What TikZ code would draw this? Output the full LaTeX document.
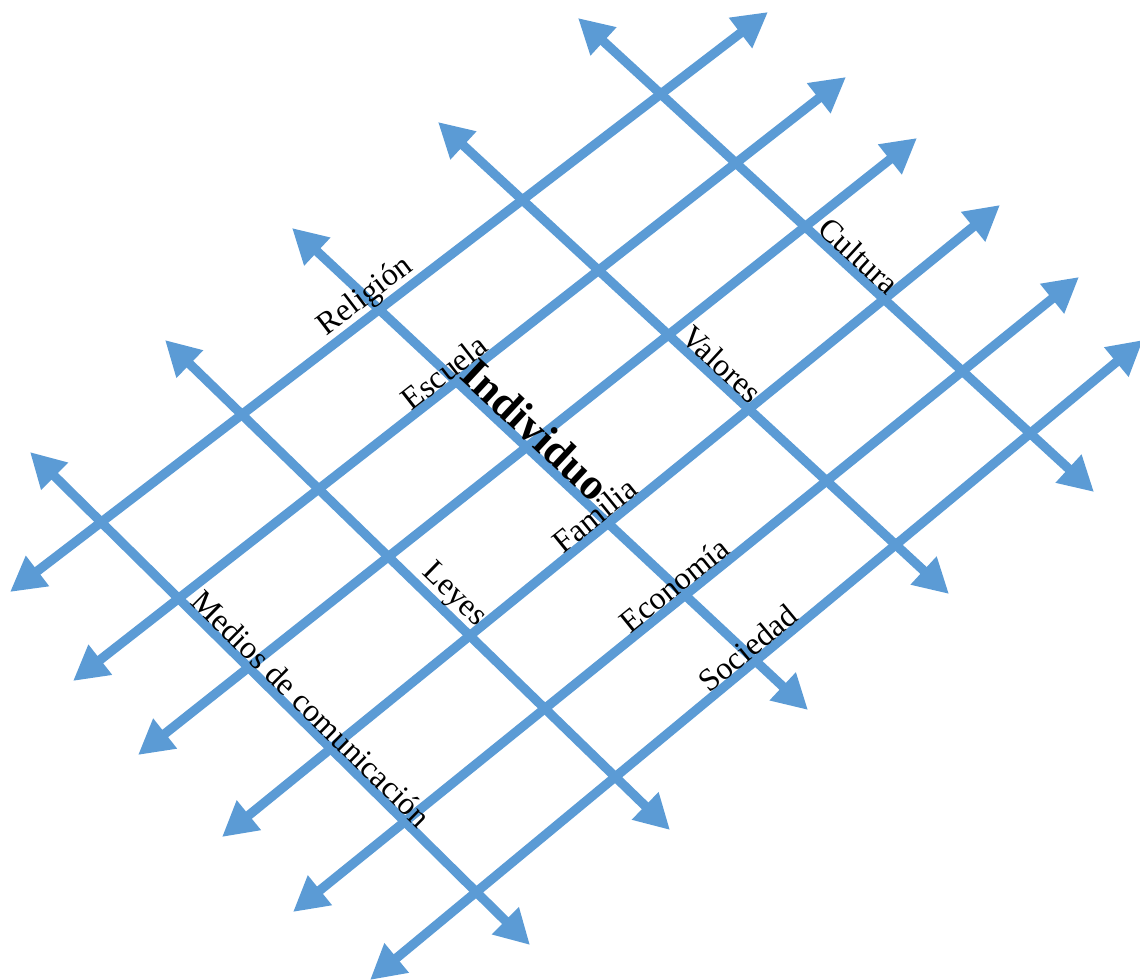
\documentclass[tikz,border=0pt]{standalone}
\usepackage{fontspec}
\setmainfont{Liberation Serif}
\usetikzlibrary{arrows.meta}

\definecolor{lineblue}{HTML}{5B9BD5}

\begin{document}
\begin{tikzpicture}[
        x=0.75pt, y=-0.75pt,
        axis/.style={draw=lineblue, line width=7pt, >={Triangle[length=26pt, width=27pt]}, <->},
        lbl/.style={sloped, above, inner sep=2.5pt, font=\fontsize{24}{28}\selectfont},
        mainlbl/.style={sloped, above, inner sep=2.5pt, font=\fontsize{33}{37}\selectfont\bfseries}
    ]
        \useasboundingbox (0,0) rectangle (1140,980);

        % --- Ends of the rising lines (lower left -> upper right) ---
        \coordinate (rel-a) at (10,592);   \coordinate (rel-b) at (768,12);
        \coordinate (esc-a) at (73,681);   \coordinate (esc-b) at (846,77);
        \coordinate (mid-a) at (138,755);  \coordinate (mid-b) at (917,138);
        \coordinate (fam-a) at (222,837);  \coordinate (fam-b) at (1000,205);
        \coordinate (eco-a) at (293,912);  \coordinate (eco-b) at (1079,277);
        \coordinate (soc-a) at (370,980);  \coordinate (soc-b) at (1143,340);

        % --- Ends of the falling lines (upper left -> lower right) ---
        \coordinate (med-a) at (30,452);   \coordinate (med-b) at (530,945);
        \coordinate (ley-a) at (165,340);  \coordinate (ley-b) at (670,830);
        \coordinate (ind-a) at (292,228);  \coordinate (ind-b) at (808,710);
        \coordinate (val-a) at (438,122);  \coordinate (val-b) at (949,594);
        \coordinate (cul-a) at (578,18);   \coordinate (cul-b) at (1094,492);

        % --- Rising lines ---
        \draw[axis] (rel-a) -- (rel-b);
        \draw[axis] (esc-a) -- (esc-b);
        \draw[axis] (mid-a) -- (mid-b);
        \draw[axis] (fam-a) -- (fam-b);
        \draw[axis] (eco-a) -- (eco-b);
        \draw[axis] (soc-a) -- (soc-b);

        % --- Falling lines ---
        \draw[axis] (med-a) -- (med-b);
        \draw[axis] (ley-a) -- (ley-b);
        \draw[axis] (ind-a) -- (ind-b);
        \draw[axis] (val-a) -- (val-b);
        \draw[axis] (cul-a) -- (cul-b);

        % --- Labels on top of the lines ---
        \path (rel-a) -- (rel-b) node[pos=0.484, lbl] (religion) {Religión};
        \path (esc-a) -- (esc-b) node[pos=0.492, lbl] (escuela) {Escuela};
        \path (fam-a) -- (fam-b) node[pos=0.491, lbl] (familia) {Familia};
        \path (eco-a) -- (eco-b) node[pos=0.497, lbl] (economia) {Economía};
        \path (soc-a) -- (soc-b) node[pos=0.501, lbl] (sociedad) {Sociedad};
        \path (med-a) -- (med-b) node[pos=0.542, lbl] (medios) {Medios de comunicación};
        \path (ley-a) -- (ley-b) node[pos=0.547, lbl] (leyes) {Leyes};
        \path (ind-a) -- (ind-b) node[pos=0.447, mainlbl] (individuo) {Individuo};
        \path (val-a) -- (val-b) node[pos=0.536, lbl] (valores) {Valores};
        \path (cul-a) -- (cul-b) node[pos=0.525, lbl] (cultura) {Cultura};

    \end{tikzpicture}
\end{document}
